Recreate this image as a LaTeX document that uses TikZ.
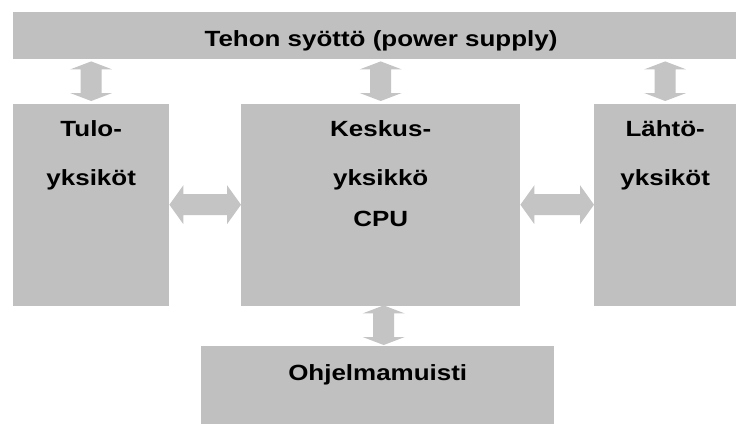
\documentclass[tikz,border=0pt]{standalone}
\usepackage{fontspec}
\setmainfont{Liberation Sans}[FakeStretch=1.18]
\usetikzlibrary{calc}
\definecolor{boxgray}{RGB}{192,192,192}
\definecolor{arrgray}{RGB}{196,196,196}
\tikzset{
  blk/.style={fill=boxgray, draw=none, inner sep=0pt, anchor=north west},
  txt/.style={font=\fontsize{22}{26}\selectfont\bfseries, inner sep=0pt, anchor=base, text=black},
  arrfill/.style={fill=arrgray, draw=none}
}
% vertical double arrow between two points (top tip, bottom tip)
\newcommand\vdarr[2]{%
  \path[arrfill] let \p1=#1, \p2=#2 in
    (\x1,\y1) -- (\x1+21pt,\y1-8pt) -- (\x1+10.5pt,\y1-8pt) -- (\x1+10.5pt,\y2+8pt)
    -- (\x1+21pt,\y2+8pt) -- (\x1,\y2) -- (\x1-21pt,\y2+8pt) -- (\x1-10.5pt,\y2+8pt)
    -- (\x1-10.5pt,\y1-8pt) -- (\x1-21pt,\y1-8pt) -- cycle;}
% horizontal double arrow between two points (left tip, right tip)
\newcommand\hdarr[2]{%
  \path[arrfill] let \p1=#1, \p2=#2 in
    (\x1,\y1) -- (\x1+14pt,\y1+19.5pt) -- (\x1+14pt,\y1+10.5pt) -- (\x2-14pt,\y1+10.5pt)
    -- (\x2-14pt,\y1+19.5pt) -- (\x2,\y1) -- (\x2-14pt,\y1-19.5pt) -- (\x2-14pt,\y1-10.5pt)
    -- (\x1+14pt,\y1-10.5pt) -- (\x1+14pt,\y1-19.5pt) -- cycle;}
\begin{document}
\begin{tikzpicture}[x=1pt,y=-1pt]
\useasboundingbox[fill=white] (0,0) rectangle (736,424);
% blocks
\node[blk, minimum width=723pt, minimum height=47pt] (bar) at (13,12) {};
\node[blk, minimum width=156pt, minimum height=202pt] (L) at (13,104) {};
\node[blk, minimum width=279pt, minimum height=202pt] (C) at (241,104) {};
\node[blk, minimum width=142pt, minimum height=202pt] (R) at (594,104) {};
\node[blk, minimum width=353pt, minimum height=78pt] (M) at (201,346) {};
% texts
\node[txt] (bart) at (381,46) {Tehon syöttö (power supply)};
\node[txt] (Lt1) at ($(L.north)+(0,32)$) {Tulo-};
\node[txt] (Lt2) at ($(L.north)+(0,81)$) {yksiköt};
\node[txt] (Ct1) at ($(C.north)+(0,32)$) {Keskus-};
\node[txt] (Ct2) at ($(C.north)+(0,81)$) {yksikkö};
\node[txt] (Ct3) at ($(C.north)+(0,122)$) {CPU};
\node[txt] (Rt1) at ($(R.north)+(0,32)$) {Lähtö-};
\node[txt] (Rt2) at ($(R.north)+(0,81)$) {yksiköt};
\node[txt] (Mt) at ($(M.north)+(0,34)$) {Ohjelmamuisti};
% arrows
\vdarr{($(bar.south -| L.north)+(0,2)$)}{($(L.north)+(0,-3)$)}
\vdarr{($(bar.south -| C.north)+(0,2)$)}{($(C.north)+(0,-3)$)}
\vdarr{($(bar.south -| R.north)+(0,2)$)}{($(R.north)+(0,-3)$)}
\vdarr{($(C.south)+(3,-1)$)}{($(M.north -| C.south)+(3,-1)$)}
\hdarr{($(L.east)+(0,-0.5)$)}{($(C.west)+(0,-0.5)$)}
\hdarr{($(C.east)+(0,-0.5)$)}{($(R.west)+(0,-0.5)$)}
\end{tikzpicture}
\end{document}
